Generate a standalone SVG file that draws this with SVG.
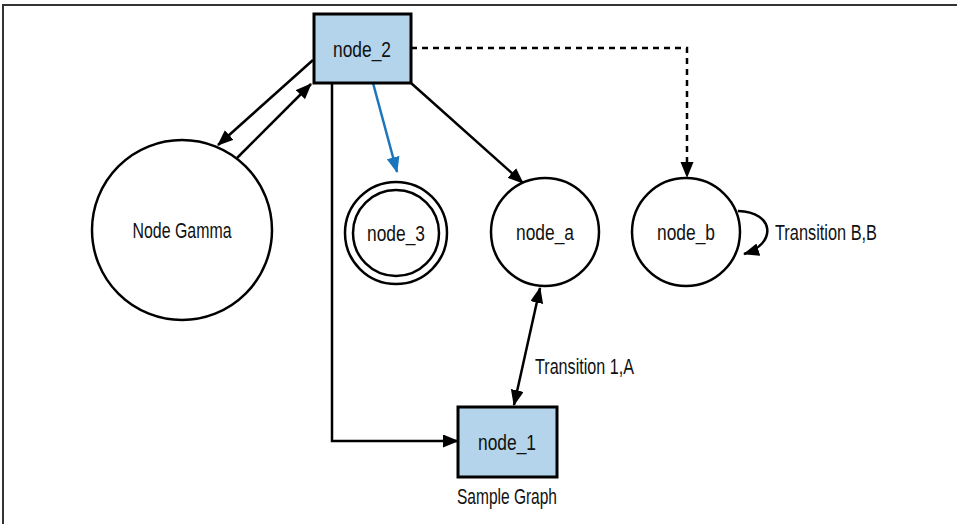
<svg xmlns="http://www.w3.org/2000/svg" width="957" height="524" viewBox="0 0 957 524">
<style>
text{font-family:"Liberation Sans",Arial,sans-serif;font-size:22px;fill:#111}
.c{text-anchor:middle}
.node circle{fill:#fff;stroke:#000;stroke-width:2.5}
.box{fill:#b3d4ea;stroke:#000;stroke-width:3}
.e{fill:none;stroke:#000;stroke-width:2.5}
</style>
<defs>
<marker id="ah" markerUnits="userSpaceOnUse" markerWidth="16" markerHeight="14" refX="15" refY="6.5" orient="auto-start-reverse"><path d="M0,0 L16,6.5 L0,13 z" fill="#000"/></marker>
<marker id="ahb" markerUnits="userSpaceOnUse" markerWidth="16" markerHeight="14" refX="15" refY="6.5" orient="auto"><path d="M0,0 L16,6.5 L0,13 z" fill="#1b75bc"/></marker>
</defs>
<rect width="957" height="524" fill="#fff"/>
<path d="M3,524 V5 H957" fill="none" stroke="#333" stroke-width="2"/>
<g id="connectors">
<path class="e" d="M313,60 L218,145" marker-end="url(#ah)"/>
<path class="e" d="M237,158 L311,84" marker-end="url(#ah)"/>
<path class="e" d="M332,83 V441 H458" marker-end="url(#ah)"/>
<path d="M373,83 L397,172" fill="none" stroke="#1b75bc" stroke-width="2.5" marker-end="url(#ahb)"/>
<path class="e" d="M411,83 L523,183" marker-end="url(#ah)"/>
<path class="e" d="M411,48 H687 V177" stroke-dasharray="6,5" marker-end="url(#ah)"/>
<path class="e" d="M540,288 L514,405" marker-start="url(#ah)" marker-end="url(#ah)"/>
<path class="e" d="M738,211 C775,212 777,244 744,254" marker-end="url(#ah)"/>
<text x="535" y="374" textLength="99" lengthAdjust="spacingAndGlyphs">Transition 1,A</text>
<text x="775" y="240" textLength="102" lengthAdjust="spacingAndGlyphs">Transition B,B</text>
</g>
<g id="node_2"><rect class="box" x="314" y="14" width="97" height="69"/><text class="c" x="362" y="57" textLength="58" lengthAdjust="spacingAndGlyphs">node_2</text></g>
<g id="node_gamma" class="node"><circle cx="182" cy="230" r="90"/><text class="c" x="182" y="238" textLength="99" lengthAdjust="spacingAndGlyphs">Node Gamma</text></g>
<g id="node_3" class="node"><circle cx="396" cy="233" r="47" style="stroke:#b3d4ea;stroke-width:7"/><circle cx="396" cy="233" r="51"/><circle cx="396" cy="233" r="43"/><text class="c" x="396" y="241" textLength="58" lengthAdjust="spacingAndGlyphs">node_3</text></g>
<g id="node_a" class="node"><circle cx="545" cy="232" r="54"/><text class="c" x="545" y="240" textLength="58" lengthAdjust="spacingAndGlyphs">node_a</text></g>
<g id="node_b" class="node"><circle cx="686" cy="232" r="54"/><text class="c" x="686" y="240" textLength="58" lengthAdjust="spacingAndGlyphs">node_b</text></g>
<g id="node_1"><rect class="box" x="458" y="407" width="99" height="70"/><text class="c" x="507" y="450" textLength="58" lengthAdjust="spacingAndGlyphs">node_1</text></g>
<text class="c" x="507" y="504" textLength="100" lengthAdjust="spacingAndGlyphs">Sample Graph</text>
</svg>
